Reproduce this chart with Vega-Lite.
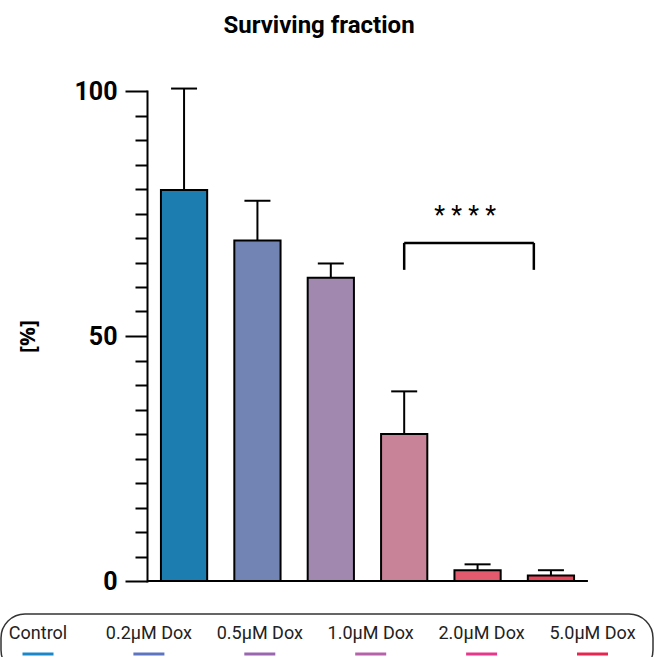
{
  "$schema": "https://vega.github.io/schema/vega-lite/v6.json",
  "padding": {"left": 0, "top": 14, "right": 0, "bottom": 0},
  "autosize": {"type": "pad"},
  "title": {"text": "Surviving fraction", "font": "Roboto", "fontSize": 24, "fontWeight": "bold", "color": "black", "anchor": "middle", "offset": 41, "dx": -8},
  "config": {"view": {"stroke": null}, "font": "Roboto"},
  "spacing": 19,
  "resolve": {"scale": {"x": "independent", "y": "independent", "color": "independent"}},
  "datasets": {
    "bars": [
      {"group": "Control", "value": 79.8, "upper": 100.5},
      {"group": "0.2µM Dox", "value": 69.5, "upper": 77.6},
      {"group": "0.5µM Dox", "value": 61.9, "upper": 64.8},
      {"group": "1.0µM Dox", "value": 30.0, "upper": 38.7},
      {"group": "2.0µM Dox", "value": 2.2, "upper": 3.4},
      {"group": "5.0µM Dox", "value": 1.1, "upper": 2.2}
    ],
    "bracket": [
      {"from": "1.0µM Dox", "to": "5.0µM Dox", "low": 63.5, "high": 69.0, "stars": "* * * *", "starsAt": "2.0µM Dox", "starsY": 72.8}
    ],
    "baseline": [
      {"from": "Control", "to": "5.0µM Dox", "y": 0}
    ],
    "legend": [
      {"name": "Control"},
      {"name": "0.2µM Dox"},
      {"name": "0.5µM Dox"},
      {"name": "1.0µM Dox"},
      {"name": "2.0µM Dox"},
      {"name": "5.0µM Dox"}
    ]
  },
  "vconcat": [
    {
      "width": 587,
      "height": 490,
      "layer": [
        {
          "data": {"name": "bars"},
          "mark": {"type": "bar", "stroke": "black", "strokeWidth": 2},
          "encoding": {
            "x": {
              "field": "group", "type": "nominal", "sort": null,
              "scale": {"domain": ["Control", "0.2µM Dox", "0.5µM Dox", "1.0µM Dox", "2.0µM Dox", "5.0µM Dox"], "range": [146, 587], "paddingInner": 0.37, "paddingOuter": 0.19},
              "axis": null
            },
            "y": {
              "field": "value", "type": "quantitative",
              "scale": {"domain": [0, 100], "nice": false},
              "axis": {
                "offset": -146,
                "title": "[%]",
                "titleFont": "Open Sans", "titleFontSize": 21, "titleFontWeight": "bold", "titleColor": "black",
                "titleX": -119, "titleBaseline": "middle",
                "values": [0, 5, 10, 15, 20, 25, 30, 35, 40, 45, 50, 55, 60, 65, 70, 75, 80, 85, 90, 95, 100],
                "tickCount": 40,
                "labelExpr": "datum.value % 50 === 0 ? datum.label : ''",
                "labelOverlap": false,
                "labelFont": "Roboto", "labelFontSize": 25, "labelFontWeight": "bold", "labelColor": "black", "labelPadding": 8,
                "domainColor": "black", "domainWidth": 2, "domainCap": "square",
                "tickColor": "black", "tickWidth": 2,
                "tickSize": {"condition": {"test": "datum.value % 50 === 0", "value": 22}, "value": 12},
                "grid": false
              }
            },
            "color": {
              "field": "group", "type": "nominal",
              "scale": {"domain": ["Control", "0.2µM Dox", "0.5µM Dox", "1.0µM Dox", "2.0µM Dox", "5.0µM Dox"], "range": ["#1c7db0", "#7184b3", "#a088ae", "#c98398", "#e3596e", "#e8455a"]},
              "legend": null
            }
          }
        },
        {
          "data": {"name": "baseline"},
          "mark": {"type": "rule", "color": "black", "strokeWidth": 2},
          "encoding": {
            "x": {"field": "from", "type": "nominal", "bandPosition": -0.3, "scale": {"domain": ["Control", "0.2µM Dox", "0.5µM Dox", "1.0µM Dox", "2.0µM Dox", "5.0µM Dox"]}},
            "x2": {"field": "to", "bandPosition": 1.3},
            "y": {"field": "y", "type": "quantitative"}
          }
        },
        {
          "data": {"name": "bars"},
          "mark": {"type": "rule", "color": "black", "strokeWidth": 2},
          "encoding": {
            "x": {"field": "group", "type": "nominal", "scale": {"domain": ["Control", "0.2µM Dox", "0.5µM Dox", "1.0µM Dox", "2.0µM Dox", "5.0µM Dox"]}},
            "y": {"field": "value", "type": "quantitative"},
            "y2": {"field": "upper"}
          }
        },
        {
          "data": {"name": "bars"},
          "mark": {"type": "tick", "orient": "horizontal", "size": 26, "thickness": 2, "color": "black", "opacity": 1},
          "encoding": {
            "x": {"field": "group", "type": "nominal", "scale": {"domain": ["Control", "0.2µM Dox", "0.5µM Dox", "1.0µM Dox", "2.0µM Dox", "5.0µM Dox"]}},
            "y": {"field": "upper", "type": "quantitative"}
          }
        },
        {
          "data": {"name": "bracket"},
          "mark": {"type": "rule", "color": "black", "strokeWidth": 2.5},
          "encoding": {
            "x": {"field": "from", "type": "nominal", "bandPosition": 0.5, "scale": {"domain": ["Control", "0.2µM Dox", "0.5µM Dox", "1.0µM Dox", "2.0µM Dox", "5.0µM Dox"]}},
            "x2": {"field": "to", "bandPosition": 0.13},
            "y": {"field": "high", "type": "quantitative"}
          }
        },
        {
          "data": {"name": "bracket"},
          "mark": {"type": "rule", "color": "black", "strokeWidth": 2.5},
          "encoding": {
            "x": {"field": "from", "type": "nominal", "bandPosition": 0.5, "scale": {"domain": ["Control", "0.2µM Dox", "0.5µM Dox", "1.0µM Dox", "2.0µM Dox", "5.0µM Dox"]}},
            "y": {"field": "low", "type": "quantitative"},
            "y2": {"field": "high"}
          }
        },
        {
          "data": {"name": "bracket"},
          "mark": {"type": "rule", "color": "black", "strokeWidth": 2.5},
          "encoding": {
            "x": {"field": "to", "type": "nominal", "bandPosition": 0.13, "scale": {"domain": ["Control", "0.2µM Dox", "0.5µM Dox", "1.0µM Dox", "2.0µM Dox", "5.0µM Dox"]}},
            "y": {"field": "low", "type": "quantitative"},
            "y2": {"field": "high"}
          }
        },
        {
          "data": {"name": "bracket"},
          "mark": {"type": "text", "font": "Roboto", "fontSize": 25, "color": "black", "baseline": "alphabetic"},
          "encoding": {
            "x": {"field": "starsAt", "type": "nominal", "bandPosition": 0.23, "scale": {"domain": ["Control", "0.2µM Dox", "0.5µM Dox", "1.0µM Dox", "2.0µM Dox", "5.0µM Dox"]}},
            "y": {"field": "starsY", "type": "quantitative"},
            "text": {"field": "stars"}
          }
        }
      ]
    },
    {
      "width": 652,
      "height": 60,
      "view": {"stroke": "#333333", "strokeWidth": 1.5, "cornerRadius": 24},
      "data": {"name": "legend"},
      "layer": [
        {
          "mark": {"type": "text", "font": "Roboto", "fontSize": 18, "color": "#222222"},
          "encoding": {
            "x": {"field": "name", "type": "nominal", "sort": null, "scale": {"type": "point", "domain": ["Control", "0.2µM Dox", "0.5µM Dox", "1.0µM Dox", "2.0µM Dox", "5.0µM Dox"], "padding": 0.4396, "align": 0.3795}, "axis": null},
            "y": {"datum": "label", "type": "nominal", "scale": {"type": "point", "domain": ["label", "line"], "padding": 1}, "axis": null},
            "text": {"field": "name"}
          }
        },
        {
          "mark": {"type": "tick", "orient": "horizontal", "size": 31, "thickness": 3, "opacity": 1},
          "encoding": {
            "x": {"field": "name", "type": "nominal", "sort": null, "scale": {"type": "point", "domain": ["Control", "0.2µM Dox", "0.5µM Dox", "1.0µM Dox", "2.0µM Dox", "5.0µM Dox"], "padding": 0.4396, "align": 0.3795}, "axis": null},
            "y": {"datum": "line", "type": "nominal", "scale": {"type": "point", "domain": ["label", "line"], "padding": 1}, "axis": null},
            "color": {"field": "name", "type": "nominal", "scale": {"domain": ["Control", "0.2µM Dox", "0.5µM Dox", "1.0µM Dox", "2.0µM Dox", "5.0µM Dox"], "range": ["#1a87c9", "#5d75c0", "#9a66b0", "#b562a8", "#e8368b", "#e8254f"]}, "legend": null}
          }
        }
      ]
    }
  ]
}
